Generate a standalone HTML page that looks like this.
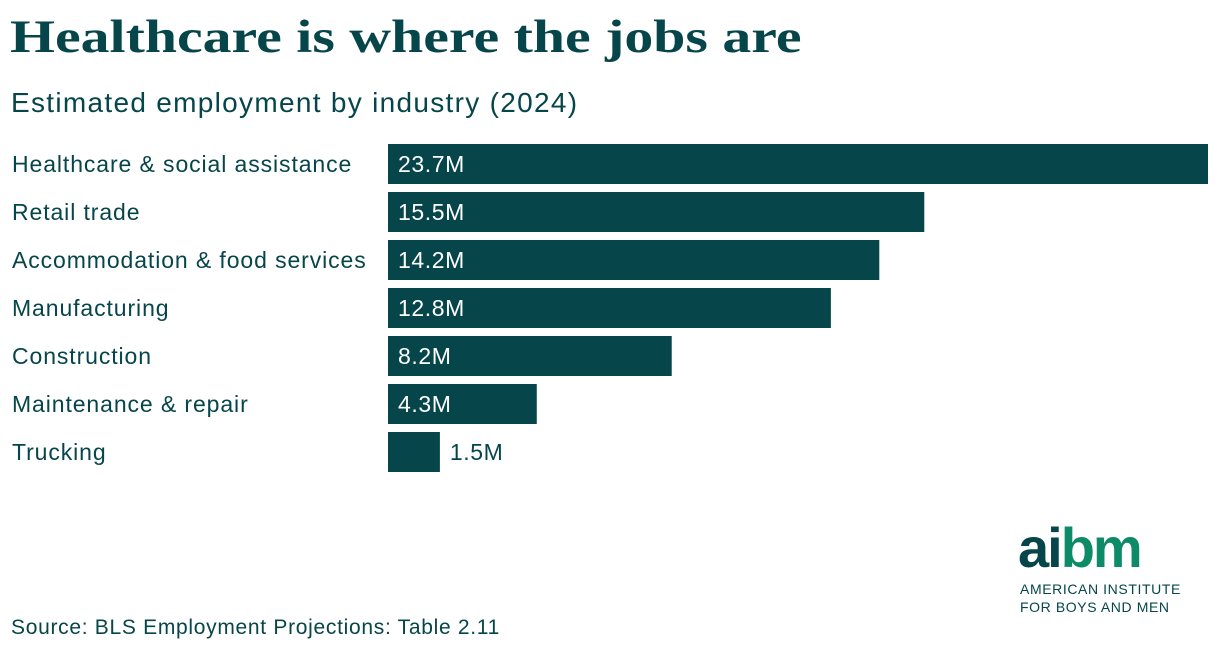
<!DOCTYPE html>
<html><head><meta charset="utf-8"><style>
body{margin:0;width:1220px;height:652px;background:#fff;position:relative;overflow:hidden;font-family:"Liberation Sans",sans-serif;color:#06454a}
.abs{position:absolute;white-space:nowrap}
</style></head><body>
<div class="abs" style="left:10px;top:10px;font-family:'Liberation Serif',serif;font-weight:bold;font-size:47px;color:#06454a;transform:scaleX(1.23);transform-origin:0 0">Healthcare is where the jobs are</div>
<div class="abs" style="left:11px;top:87px;font-size:28px;letter-spacing:1.3px;color:#06454a">Estimated employment by industry (2024)</div>
<svg class="abs" style="left:0;top:0" width="1220" height="500" id="chart"></svg>
<div class="abs" style="left:1018px;top:518px;font-weight:bold;font-size:56px;letter-spacing:-2px;line-height:60px"><span style="color:#06454a">ai</span><span style="color:#0d8a68">bm</span></div>
<div class="abs" style="left:1020px;top:580px;font-size:14px;line-height:18px;color:#06454a;letter-spacing:0.6px">AMERICAN INSTITUTE<br>FOR BOYS AND MEN</div>
<div class="abs" style="left:11px;top:616px;font-size:21px;letter-spacing:0.7px;color:#06454a">Source: BLS Employment Projections: Table 2.11</div>
<script>
const categories=["Healthcare & social assistance","Retail trade","Accommodation & food services","Manufacturing","Construction","Maintenance & repair","Trucking"];
const values=[23.7,15.5,14.2,12.8,8.2,4.3,1.5];
const valueLabels=["23.7M","15.5M","14.2M","12.8M","8.2M","4.3M","1.5M"];
const svg=document.getElementById('chart');
const NS='http://www.w3.org/2000/svg';
const x0=388,xMax=1208,maxV=23.7;
const x=v=>x0+(xMax-x0)*v/maxV;
const y=i=>144+i*48;
categories.forEach((c,i)=>{
 const t=document.createElementNS(NS,'text');
 
 
 t.setAttribute('x',12);t.setAttribute('y',y(i)+28);
 t.setAttribute('font-size','23');t.setAttribute('fill','#06454a');
 t.setAttribute('letter-spacing','0.9');
 t.textContent=c;svg.appendChild(t);
 const r=document.createElementNS(NS,'rect');
 
 
 r.setAttribute('x',x0);r.setAttribute('y',y(i));
 r.setAttribute('width',x(values[i])-x0);r.setAttribute('height',40);
 r.setAttribute('fill','#06454a');svg.appendChild(r);
 const w=x(values[i])-x0;
 const l=document.createElementNS(NS,'text');
 
 
 const inside=w>70;
 l.setAttribute('x',inside?x0+10:x(values[i])+10);
 l.setAttribute('y',y(i)+28);
 l.setAttribute('font-size','23');
 l.setAttribute('letter-spacing','0.6');
 l.setAttribute('fill',inside?'#ffffff':'#06454a');
 l.textContent=valueLabels[i];svg.appendChild(l);
});
</script>
</body></html>
